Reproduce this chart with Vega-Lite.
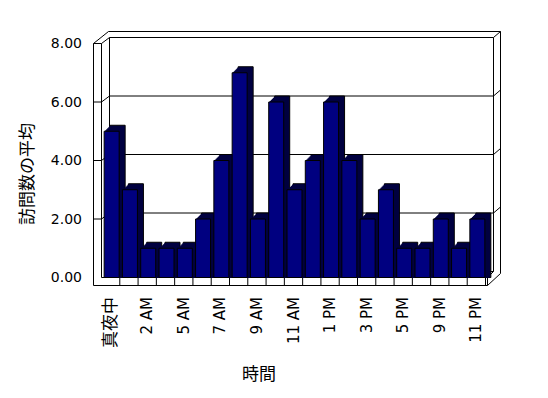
{
  "$schema": "https://vega.github.io/schema/vega-lite/v6.json",
  "width": 384,
  "height": 234,
  "autosize": {"type": "none"},
  "padding": {"left": 101.5, "top": 43.5, "right": 62.5, "bottom": 120.5},
  "background": "white",
  "config": {"view": {"stroke": null}, "axis": {"grid": false}},
  "datasets": {
    "visits": [
      {"cat": "真夜中", "value": 5},
      {"cat": "1 AM", "value": 3},
      {"cat": "2 AM", "value": 1},
      {"cat": "4 AM", "value": 1},
      {"cat": "5 AM", "value": 1},
      {"cat": "6 AM", "value": 2},
      {"cat": "7 AM", "value": 4},
      {"cat": "8 AM", "value": 7},
      {"cat": "9 AM", "value": 2},
      {"cat": "10 AM", "value": 6},
      {"cat": "11 AM", "value": 3},
      {"cat": "正午", "value": 4},
      {"cat": "1 PM", "value": 6},
      {"cat": "2 PM", "value": 4},
      {"cat": "3 PM", "value": 2},
      {"cat": "4 PM", "value": 3},
      {"cat": "5 PM", "value": 1},
      {"cat": "8 PM", "value": 1},
      {"cat": "9 PM", "value": 2},
      {"cat": "10 PM", "value": 1},
      {"cat": "11 PM", "value": 2}
    ],
    "grid": [{"v": 2}, {"v": 4}, {"v": 6}, {"v": 8}],
    "one": [{}]
  },
  "layer": [
    {"data": {"name": "grid"}, "mark": {"type": "rule", "color": "black", "xOffset": 8, "x2Offset": 8, "yOffset": -6},
     "encoding": {"x": {"value": 0}, "x2": {"value": "width"},
       "y": {"field": "v", "type": "quantitative", "scale": {"domain": [0, 8], "nice": false},
         "axis": {"values": [0, 2, 4, 6, 8], "format": ".2f", "title": "訪問数の平均", "offset": 8, "domain": false, "ticks": false,
           "labelPadding": 12, "labelFont": "DejaVu Sans", "labelFontSize": 14, "labelColor": "black",
           "titleFont": "Noto Sans CJK JP", "titleFontSize": 17, "titleFontWeight": "normal", "titleColor": "black",
           "titleAngle": 270, "titleAlign": "center", "titleBaseline": "middle", "titleX": -66, "titleY": 130}}}},
    {"data": {"name": "grid"}, "mark": {"type": "rule", "color": "black", "xOffset": 8, "x2Offset": 15, "yOffset": -6, "y2Offset": -12},
     "encoding": {"x": {"value": "width"}, "x2": {"value": "width"}, "y": {"field": "v", "type": "quantitative"}, "y2": {"field": "v"}}},
    {"data": {"name": "grid"}, "mark": {"type": "rule", "color": "black", "x2Offset": 8, "y2Offset": -6},
     "encoding": {"x": {"value": 0}, "x2": {"value": 0}, "y": {"field": "v", "type": "quantitative"}, "y2": {"field": "v"}}},
    {"data": {"name": "grid"}, "mark": {"type": "rule", "color": "black", "xOffset": -8},
     "encoding": {"x": {"value": 0}, "x2": {"value": 0}, "y": {"field": "v", "type": "quantitative"}}},
    {"data": {"name": "one"}, "mark": {"type": "rule", "color": "black", "xOffset": 8, "yOffset": -6, "y2Offset": -6},
     "encoding": {"x": {"value": "width"}, "y": {"datum": 8, "type": "quantitative"}, "y2": {"datum": 0}}},
    {"data": {"name": "one"}, "mark": {"type": "rule", "color": "black", "xOffset": 8, "yOffset": -6, "y2Offset": -6},
     "encoding": {"x": {"value": 0}, "y": {"datum": 8, "type": "quantitative"}, "y2": {"datum": 0}}},
    {"data": {"name": "one"}, "mark": {"type": "rule", "color": "black", "xOffset": 15, "yOffset": -12, "y2Offset": -4},
     "encoding": {"x": {"value": "width"}, "y": {"datum": 8, "type": "quantitative"}, "y2": {"datum": 0}}},
    {"data": {"name": "one"}, "mark": {"type": "rule", "color": "black", "xOffset": 7, "x2Offset": 15, "yOffset": -12},
     "encoding": {"x": {"value": 0}, "x2": {"value": "width"}, "y": {"datum": 8, "type": "quantitative"}}},
    {"data": {"name": "one"}, "mark": {"type": "rule", "color": "black", "xOffset": -8, "x2Offset": 7, "y2Offset": -12},
     "encoding": {"x": {"value": 0}, "x2": {"value": 0}, "y": {"datum": 8, "type": "quantitative"}, "y2": {"datum": 8}}},
    {"data": {"name": "one"}, "mark": {"type": "rule", "color": "black"},
     "encoding": {"x": {"value": 0}, "y": {"datum": 8, "type": "quantitative"}, "y2": {"datum": 0}}},
    {"data": {"name": "one"}, "mark": {"type": "rule", "color": "black", "xOffset": -8, "y2Offset": 8},
     "encoding": {"x": {"value": 0}, "y": {"datum": 8, "type": "quantitative"}, "y2": {"datum": 0}}},
    {"data": {"name": "one"}, "mark": {"type": "rule", "color": "black", "xOffset": 8, "x2Offset": 8, "yOffset": -6},
     "encoding": {"x": {"value": 0}, "x2": {"value": "width"}, "y": {"datum": 0, "type": "quantitative"}}},
    {"data": {"name": "one"}, "mark": {"type": "rule", "color": "black", "x2Offset": 2},
     "encoding": {"x": {"value": 0}, "x2": {"value": "width"}, "y": {"datum": 0, "type": "quantitative"}}},
    {"data": {"name": "one"}, "mark": {"type": "rule", "color": "black", "xOffset": -8, "x2Offset": 2, "yOffset": 8},
     "encoding": {"x": {"value": 0}, "x2": {"value": "width"}, "y": {"datum": 0, "type": "quantitative"}}},
    {"data": {"name": "one"}, "mark": {"type": "rule", "color": "black", "xOffset": 2, "x2Offset": 8, "y2Offset": -6},
     "encoding": {"x": {"value": "width"}, "x2": {"value": "width"}, "y": {"datum": 0, "type": "quantitative"}, "y2": {"datum": 0}}},
    {"data": {"name": "one"}, "mark": {"type": "rule", "color": "black", "xOffset": 2, "x2Offset": 15, "yOffset": 8, "y2Offset": -4},
     "encoding": {"x": {"value": "width"}, "x2": {"value": "width"}, "y": {"datum": 0, "type": "quantitative"}, "y2": {"datum": 0}}},
    {"data": {"name": "one"}, "mark": {"type": "rule", "color": "black", "xOffset": 2, "y2Offset": 8},
     "encoding": {"x": {"value": "width"}, "y": {"datum": 0, "type": "quantitative"}, "y2": {"datum": 0}}},
    {"data": {"name": "visits"}, "mark": {"type": "rule", "color": "black", "y2Offset": 8},
     "encoding": {"x": {"field": "cat", "type": "nominal", "sort": null, "bandPosition": 1,
         "scale": {"domain": ["真夜中","1 AM","2 AM","4 AM","5 AM","6 AM","7 AM","8 AM","9 AM","10 AM","11 AM","正午","1 PM","2 PM","3 PM","4 PM","5 PM","8 PM","9 PM","10 PM","11 PM"], "paddingInner": 0, "paddingOuter": 0},
         "axis": {"values": ["真夜中","2 AM","5 AM","7 AM","9 AM","11 AM","1 PM","3 PM","5 PM","9 PM","11 PM"],
           "title": "時間", "domain": false, "ticks": false, "labelPadding": 19, "labelAngle": 270, "labelColor": "black",
           "labelFont": {"condition": {"test": "datum.value == '真夜中'", "value": "Noto Sans CJK JP"}, "value": "DejaVu Sans"},
           "labelFontSize": {"condition": {"test": "datum.value == '真夜中'", "value": 17}, "value": 15},
           "titleFont": "Noto Sans CJK JP", "titleFontSize": 17, "titleFontWeight": "normal", "titleColor": "black",
           "titleAlign": "center", "titleBaseline": "top", "titleX": 157, "titleY": 89}},
       "y": {"datum": 0, "type": "quantitative"}, "y2": {"datum": 0}}},
    {"data": {"name": "visits"}, "mark": {"type": "bar", "size": 15, "xOffset": 7, "yOffset": -6, "fill": "#000040", "stroke": "black", "strokeWidth": 1},
     "encoding": {"x": {"field": "cat", "type": "nominal", "sort": null}, "y": {"field": "value", "type": "quantitative"}, "y2": {"datum": 0}}},
    {"data": {"name": "visits"}, "mark": {"type": "bar", "size": 15, "xOffset": 6, "yOffset": -5, "fill": "#000040"},
     "encoding": {"x": {"field": "cat", "type": "nominal", "sort": null}, "y": {"field": "value", "type": "quantitative"}, "y2": {"datum": 0}}},
    {"data": {"name": "visits"}, "mark": {"type": "bar", "size": 15, "xOffset": 5, "yOffset": -4, "fill": "#000040"},
     "encoding": {"x": {"field": "cat", "type": "nominal", "sort": null}, "y": {"field": "value", "type": "quantitative"}, "y2": {"datum": 0}}},
    {"data": {"name": "visits"}, "mark": {"type": "bar", "size": 15, "xOffset": 4, "yOffset": -3, "fill": "#000040"},
     "encoding": {"x": {"field": "cat", "type": "nominal", "sort": null}, "y": {"field": "value", "type": "quantitative"}, "y2": {"datum": 0}}},
    {"data": {"name": "visits"}, "mark": {"type": "bar", "size": 15, "xOffset": 3, "yOffset": -2, "fill": "#000040"},
     "encoding": {"x": {"field": "cat", "type": "nominal", "sort": null}, "y": {"field": "value", "type": "quantitative"}, "y2": {"datum": 0}}},
    {"data": {"name": "visits"}, "mark": {"type": "bar", "size": 15, "xOffset": 2, "yOffset": -1, "fill": "#000040"},
     "encoding": {"x": {"field": "cat", "type": "nominal", "sort": null}, "y": {"field": "value", "type": "quantitative"}, "y2": {"datum": 0}}},
    {"data": {"name": "visits"}, "mark": {"type": "bar", "size": 15, "xOffset": 1, "fill": "#000080", "stroke": "black", "strokeWidth": 1},
     "encoding": {"x": {"field": "cat", "type": "nominal", "sort": null}, "y": {"field": "value", "type": "quantitative"}, "y2": {"datum": 0}}}
  ]
}
